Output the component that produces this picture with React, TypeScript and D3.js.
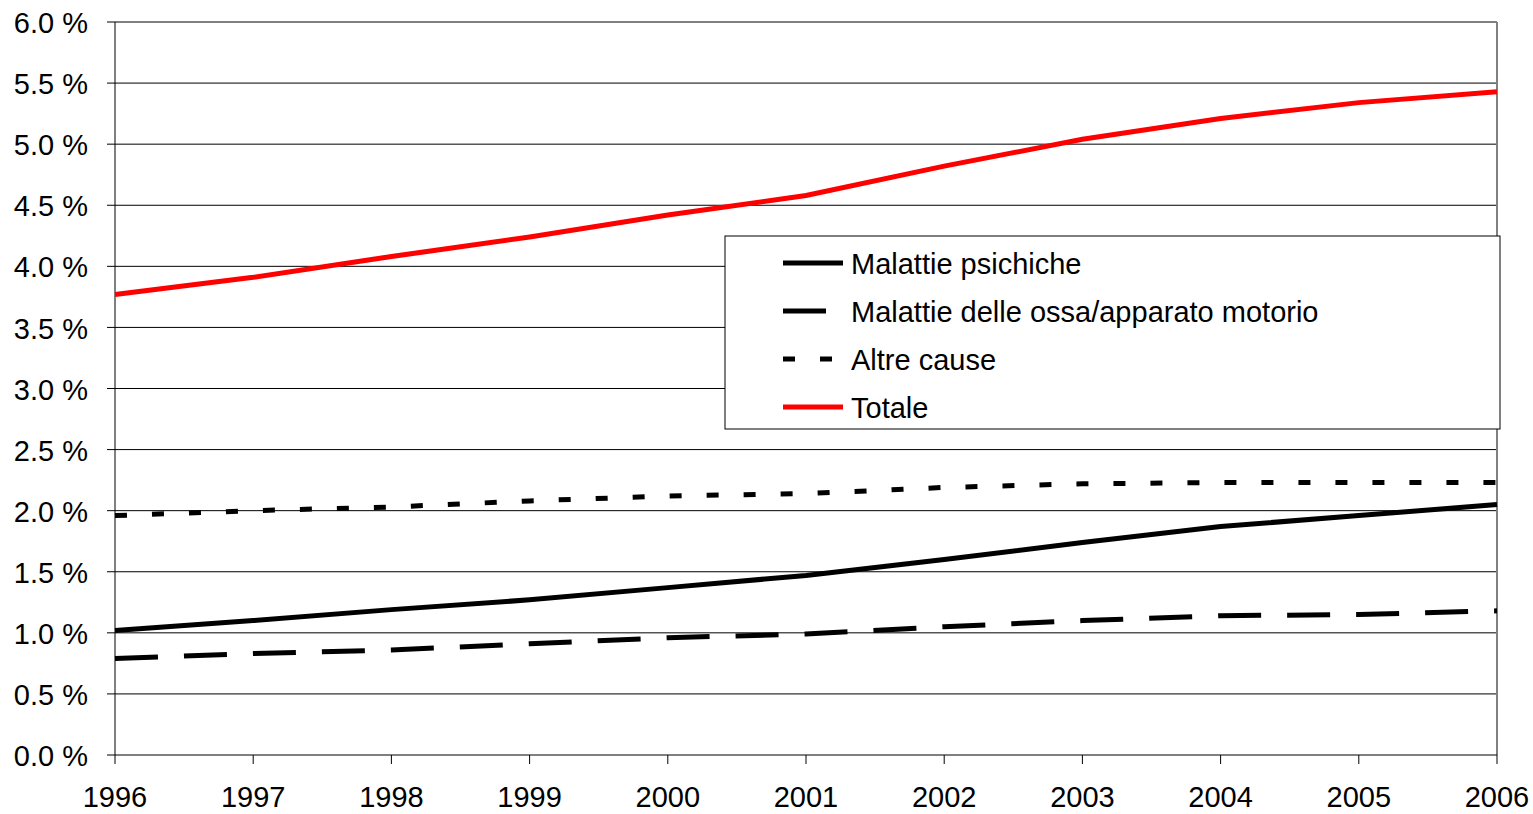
import React from "react";
import * as d3 from "d3";

const years = [1996, 1997, 1998, 1999, 2000, 2001, 2002, 2003, 2004, 2005, 2006];
const psichiche = [1.02, 1.1, 1.19, 1.27, 1.37, 1.47, 1.6, 1.74, 1.87, 1.96, 2.05];
const ossa = [0.79, 0.83, 0.86, 0.91, 0.96, 0.99, 1.05, 1.1, 1.14, 1.15, 1.18];
const altre = [1.96, 2.0, 2.03, 2.08, 2.12, 2.14, 2.19, 2.22, 2.23, 2.23, 2.23];
const totale = [3.77, 3.91, 4.08, 4.24, 4.42, 4.58, 4.82, 5.04, 5.21, 5.34, 5.43];
const yTicks = [0, 0.5, 1, 1.5, 2, 2.5, 3, 3.5, 4, 4.5, 5, 5.5, 6];

const series = [
  { name: "Malattie psichiche", values: psichiche, color: "#000", dash: "" },
  { name: "Malattie delle ossa/apparato motorio", values: ossa, color: "#000", dash: "43 26" },
  { name: "Altre cause", values: altre, color: "#000", dash: "12 25" },
  { name: "Totale", values: totale, color: "#ff0000", dash: "" },
];

export default function App() {
  const W = 1533, H = 814;
  const x0 = 115, x1 = 1497, yTop = 22, yBot = 755;
  const x = d3.scaleLinear().domain([1996, 2006]).range([x0, x1]);
  const y = d3.scaleLinear().domain([0, 6]).range([yBot, yTop]);
  const line = d3.line<number>().x((_, i) => x(years[i])).y((d) => y(d));
  const font = "'Liberation Sans', Arial, sans-serif";
  const fs = 29;
  const lx = 725, ly = 236, lw = 775, lh = 193;
  return (
    <svg width={W} height={H} style={{ position: "absolute", left: 0, top: 0 }} fontFamily={font}>
      <rect width={W} height={H} fill="#fff" />
      {yTicks.map((t) => (
        <g key={t}>
          {t > 0 && t < 6 && <line x1={x0} x2={x1} y1={y(t)} y2={y(t)} stroke="#000" strokeWidth={1} />}
          <line x1={x0 - 8} x2={x0} y1={y(t)} y2={y(t)} stroke="#000" strokeWidth={1} />
          <text x={88} y={y(t) + 1} dy="0.35em" textAnchor="end" fontSize={fs}>
            {t.toFixed(1) + " %"}
          </text>
        </g>
      ))}
      <line x1={x0} x2={x1} y1={yTop} y2={yTop} stroke="#808080" strokeWidth={2} />
      <line x1={x1} x2={x1} y1={yTop} y2={yBot} stroke="#808080" strokeWidth={2} />
      <line x1={x0} x2={x0} y1={yTop} y2={yBot} stroke="#000" strokeWidth={1} />
      <line x1={x0} x2={x1} y1={yBot} y2={yBot} stroke="#000" strokeWidth={1} />
      {years.map((yr) => (
        <g key={yr}>
          <line x1={x(yr)} x2={x(yr)} y1={yBot} y2={yBot + 9} stroke="#000" strokeWidth={1} />
          <text x={x(yr)} y={797} dy="0.35em" textAnchor="middle" fontSize={fs}>
            {yr}
          </text>
        </g>
      ))}
      {series.map((s) => (
        <path key={s.name} d={line(s.values) || ""} fill="none" stroke={s.color} strokeWidth={5} strokeDasharray={s.dash} />
      ))}
      <rect x={lx} y={ly} width={lw} height={lh} fill="#fff" stroke="#000" strokeWidth={1} />
      {series.map((s, i) => {
        const yy = ly + 27 + i * 48;
        return (
          <g key={s.name}>
            <line x1={783} x2={843} y1={yy} y2={yy} stroke={s.color} strokeWidth={5} strokeDasharray={s.dash} />
            <text x={851} y={yy + 1} dy="0.35em" fontSize={fs}>
              {s.name}
            </text>
          </g>
        );
      })}
    </svg>
  );
}
